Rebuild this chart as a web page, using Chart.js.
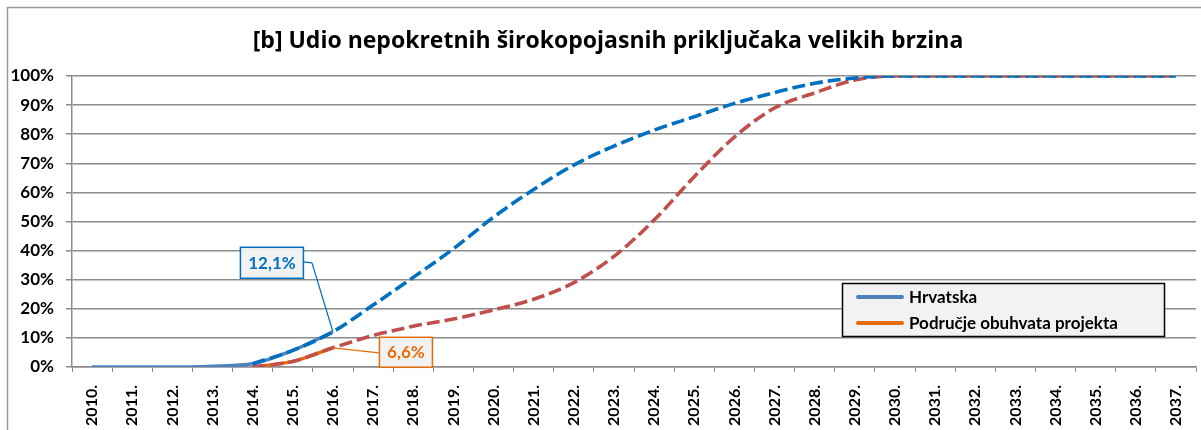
<!DOCTYPE html>
<html><head><meta charset="utf-8">
<script src="https://cdn.jsdelivr.net/npm/chart.js@4"></script>
<style>html,body{margin:0;padding:0;background:#fff;}</style>
</head><body>
<canvas id="c" width="1201" height="430"></canvas>
<script>
const titleText = '[b] Udio nepokretnih širokopojasnih priključaka velikih brzina';
const years = ['2010.','2011.','2012.','2013.','2014.','2015.','2016.','2017.','2018.','2019.',
  '2020.','2021.','2022.','2023.','2024.','2025.','2026.','2027.','2028.','2029.',
  '2030.','2031.','2032.','2033.','2034.','2035.','2036.','2037.'];
const seriesNames = ['Hrvatska', 'Područje obuhvata projekta'];
// actual values (solid)
const hrActual = [0, 0, 0, 0.3, 1.1, 5.7, 12.1, null, null, null,
  null, null, null, null, null, null, null, null, null, null,
  null, null, null, null, null, null, null, null];
const poActual = [null, null, null, null, 0, 1.9, 6.6, null, null, null,
  null, null, null, null, null, null, null, null, null, null,
  null, null, null, null, null, null, null, null];
// projections (dashed)
const hrProj = [null, null, null, null, 1.1, 5.7, 12.1, 21.3, 30.8, 40.6,
  51.5, 61, 69.4, 75.9, 81.4, 86, 90.6, 94.3, 97.5, 99.3,
  100, 100, 100, 100, 100, 100, 100, 100];
const poProj = [null, null, null, null, 0, 1.9, 6.6, 10.8, 14, 16.5,
  19.6, 23.3, 29, 38, 50.5, 65.4, 79, 89, 94.2, 98.6,
  100, 100, 100, 100, 100, 100, 100, 100];
const yTicks = [0, 10, 20, 30, 40, 50, 60, 70, 80, 90, 100];
const callouts = [{series: 0, index: 6}, {series: 1, index: 6}];

const FONT = 'Lato, "Open Sans", sans-serif';
const TFONT = '"Open Sans", Lato, sans-serif';
const C = {hrSolid: '#4F81BD', hrDash: '#0070C0', poSolid: '#E46C0A', poDash: '#C0504D', grid: '#8c8c8c'};

function fitFont(ctx, text, family, base, target) {
  ctx.font = 'bold ' + base + 'px ' + family;
  const w = ctx.measureText(text).width;
  return base * target / w;
}

const frame = {
  id: 'frame',
  beforeDraw(chart) {
    const ctx = chart.ctx;
    ctx.save();
    ctx.fillStyle = '#fff';
    ctx.fillRect(0, 0, chart.width, chart.height);
    ctx.strokeStyle = '#9a9a9a';
    ctx.lineWidth = 1.5;
    ctx.strokeRect(7.5, 7.5, chart.width + 20, chart.height + 20);
    ctx.fillStyle = '#000';
    const sz = Math.min(23, fitFont(ctx, titleText, TFONT, 20, 715));
    ctx.font = 'bold ' + sz.toFixed(2) + 'px ' + TFONT;
    ctx.textAlign = 'center';
    ctx.textBaseline = 'middle';
    ctx.fillText(titleText, 608, 41);
    ctx.restore();
  }
};

function fmt(v) { return String(v).replace('.', ',') + '%'; }

const extras = {
  id: 'extras',
  afterDatasetsDraw(chart) {
    const ctx = chart.ctx, xs = chart.scales.x, ys = chart.scales.y, ca = chart.chartArea;
    ctx.save();
    // callouts
    const specs = [
      {data: hrActual, color: '#0070C0', dx: -93, dy: -85, w: 63, h: 31, leader: 'hr'},
      {data: poActual, color: '#E46C0A', dx: 46, dy: -11, w: 53, h: 30, leader: 'po'}
    ];
    callouts.forEach((c, k) => {
      const s = specs[k];
      const v = s.data[c.index];
      const ax = xs.getPixelForValue(c.index), ay = ys.getPixelForValue(v);
      const bx = ax + s.dx, by = ay + s.dy;
      ctx.strokeStyle = s.color; ctx.lineWidth = 1.2;
      ctx.beginPath();
      if (s.leader === 'hr') {
        ctx.moveTo(bx + s.w, by + 15); ctx.lineTo(bx + s.w + 9, by + 16); ctx.lineTo(ax, ay);
      } else {
        ctx.moveTo(bx, by + 16); ctx.lineTo(ax, ay);
      }
      ctx.stroke();
      ctx.fillStyle = '#F2F2F2';
      ctx.fillRect(bx, by, s.w, s.h);
      ctx.lineWidth = 1.5;
      ctx.strokeRect(bx + 0.5, by + 0.5, s.w, s.h);
      ctx.fillStyle = s.color;
      ctx.font = 'bold 17px ' + FONT;
      ctx.textAlign = 'center'; ctx.textBaseline = 'middle';
      ctx.fillText(fmt(v), bx + s.w / 2 + 0.5, by + s.h / 2 + 1);
    });
    // legend
    const lx = ca.right - 354, ly = ca.bottom - 84, lw = 322, lh = 53;
    ctx.fillStyle = '#F2F2F2';
    ctx.fillRect(lx, ly, lw, lh);
    ctx.strokeStyle = '#000'; ctx.lineWidth = 1.5;
    ctx.strokeRect(lx + 0.5, ly + 0.5, lw, lh);
    const cols = [C.hrSolid, C.poSolid];
    seriesNames.forEach((n, i) => {
      const yy = ly + 14 + i * 26;
      ctx.strokeStyle = cols[i]; ctx.lineWidth = 4; ctx.lineCap = 'round';
      ctx.beginPath(); ctx.moveTo(lx + 16, yy); ctx.lineTo(lx + 60, yy); ctx.stroke();
      ctx.fillStyle = '#000';
      ctx.font = 'bold 17px ' + FONT;
      ctx.textAlign = 'left'; ctx.textBaseline = 'middle';
      ctx.fillText(n, lx + 67, yy + 1);
    });
    ctx.restore();
  }
};

const dashed = [13, 5];
new Chart(document.getElementById('c'), {
  type: 'line',
  data: {
    labels: years,
    datasets: [
      {label: seriesNames[0] + ' proj', data: hrProj, borderColor: C.hrDash, borderWidth: 3.6, borderDash: dashed, order: 0},
      {label: seriesNames[1] + ' proj', data: poProj, borderColor: C.poDash, borderWidth: 3.6, borderDash: dashed, order: 1},
      {label: seriesNames[0], data: hrActual, borderColor: C.hrSolid, borderWidth: 3.4, order: 2},
      {label: seriesNames[1], data: poActual, borderColor: C.poSolid, borderWidth: 3.4, order: 3}
    ].map(d => Object.assign({pointRadius: 0, fill: false, cubicInterpolationMode: 'monotone', spanGaps: false, borderCapStyle: 'butt'}, d))
  },
  options: {
    responsive: false, animation: false, devicePixelRatio: 1,
    layout: {padding: {left: 0, top: 76, right: 5, bottom: 0}},
    plugins: {legend: {display: false}, tooltip: {enabled: false}, title: {display: false}},
    scales: {
      x: {
        type: 'category', offset: true,
        afterFit(s) { s.height = 63; s.paddingLeft = 0; s.paddingRight = 0; },
        grid: {offset: true, drawOnChartArea: false, drawTicks: true, tickLength: 5, color: C.grid},
        border: {display: true, color: C.grid, width: 1.5},
        ticks: {autoSkip: false, minRotation: 90, maxRotation: 90, padding: 13, color: '#000', font: {family: FONT, weight: 'bold', size: 16}}
      },
      y: {
        min: 0, max: 100,
        afterFit(s) { s.width = 72; s.paddingTop = 0; s.paddingBottom = 0; },
        afterBuildTicks(s) { s.ticks = yTicks.map(v => ({value: v})); },
        grid: {color: C.grid, lineWidth: 1.5, tickLength: 6},
        border: {display: true, color: C.grid, width: 1.5},
        ticks: {padding: 12, color: '#000', font: {family: FONT, weight: 'bold', size: 17}, callback: v => v + '%'}
      }
    }
  },
  plugins: [frame, extras]
});
</script>
</body></html>
